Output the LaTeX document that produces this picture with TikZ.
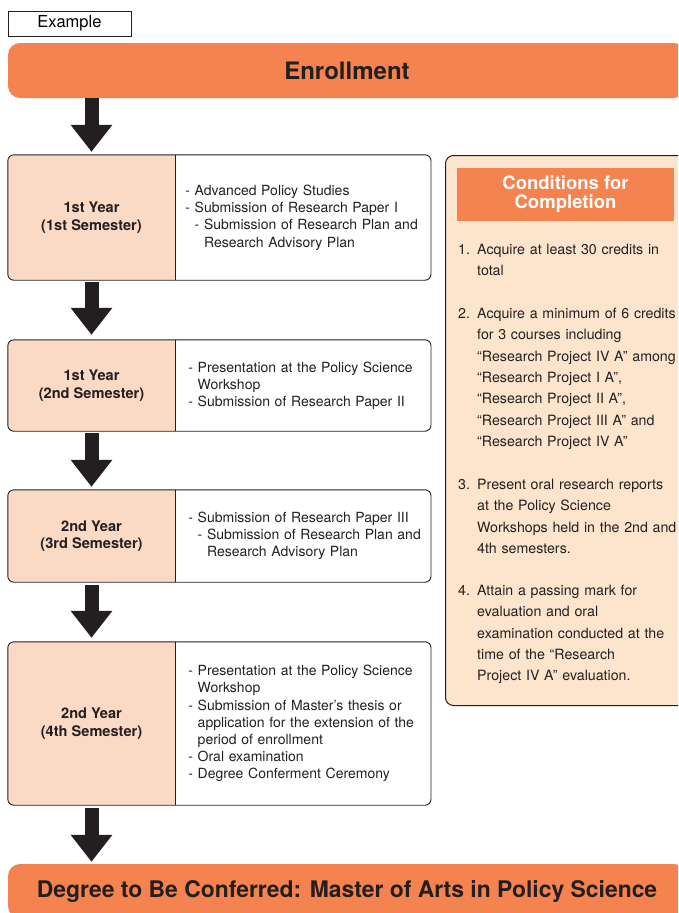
\documentclass[tikz,border=0pt]{standalone}
\usepackage{fontspec}
\setmainfont{TeX Gyre Heros}
\usetikzlibrary{arrows.meta,backgrounds,positioning}
\definecolor{bannerorange}{RGB}{244,131,79}
\definecolor{cellpeach}{RGB}{251,218,197}
\definecolor{panelpeach}{RGB}{253,229,205}
\definecolor{inkdark}{RGB}{35,31,32}
\tikzset{
  banner/.style={fill=bannerorange, rounded corners=12pt, minimum width=678pt, minimum height=55pt,
    text=inkdark, font=\fontsize{24}{28}\selectfont\bfseries},
  yearcell/.style={minimum width=167pt, inner sep=0pt, align=center, text=inkdark,
    font=\fontsize{14.6}{17.5}\selectfont\bfseries},
  itemcell/.style={anchor=west, text width=245pt, inner xsep=10pt, inner ysep=0pt, align=left,
    text=inkdark, font=\fontsize{14}{17.2}\selectfont},
  condtext/.style={anchor=north west, text width=270pt, inner sep=0pt, align=left,
    text=inkdark, font=\fontsize{14.2}{21.3}\selectfont},
  flowarrow/.style={line width=14pt, draw=inkdark, -{Triangle[width=40pt,length=27pt]}}
}
\newcommand{\numlabel}[1]{\makebox[19pt][l]{#1}}
\newcommand{\numgap}{\hspace*{19pt}}

\begin{document}
\begin{tikzpicture}[x=1pt,y=-1pt]
\clip (0,0) rectangle (678,913);
\useasboundingbox (0,0) rectangle (678,913);

\node[draw=inkdark, line width=0.8pt, minimum width=123pt, minimum height=25pt, inner sep=0pt,
  font=\fontsize{16.5}{18}\selectfont] (example) at (69.5,23.5) {Example};

\node[banner] (enroll) at (347,70.5) {Enrollment};
\node[banner, minimum height=54pt, font=\fontsize{22.9}{26}\selectfont\bfseries] (degree) at (347,891)
  {Degree to Be Conferred: Master of Arts in Policy Science};

% semesters
\coordinate (redge) at (431,0);
\node[yearcell, minimum height=125pt] (y1) at (91.5,217.5) {1st Year\\(1st Semester)};
\node[itemcell] (t1) at (y1.east) {- Advanced Policy Studies\\- Submission of Research Paper I\\
  \phantom{- }- Submission of Research Plan and\\\phantom{- - }Research Advisory Plan};

\node[yearcell, minimum height=91pt] (y2) at (91.5,385.5) {1st Year\\(2nd Semester)};
\node[itemcell, inner xsep=13pt] (t2) at (y2.east) {- Presentation at the Policy Science\\
  \phantom{- }Workshop\\- Submission of Research Paper II};

\node[yearcell, minimum height=92pt] (y3) at (91.5,536) {2nd Year\\(3rd Semester)};
\node[itemcell, inner xsep=13pt] (t3) at (y3.east) {- Submission of Research Paper III\\
  \phantom{- }- Submission of Research Plan and\\\phantom{- - }Research Advisory Plan};

\node[yearcell, minimum height=163pt] (y4) at (91.5,723.5) {2nd Year\\(4th Semester)};
\node[itemcell, inner xsep=13pt] (t4) at (y4.east) {- Presentation at the Policy Science\\
  \phantom{- }Workshop\\- Submission of Master’s thesis or\\
  \phantom{- }application for the extension of the\\\phantom{- }period of enrollment\\
  - Oral examination\\- Degree Conferment Ceremony};

\begin{scope}[on background layer]
\foreach \n in {1,...,4}{
  \begin{scope}
    \clip[rounded corners=6pt] (y\n.south west) rectangle (y\n.north west -| redge);
    \fill[cellpeach] (y\n.south west) rectangle (y\n.north east);
  \end{scope}
  \draw[inkdark, line width=0.9pt, rounded corners=6pt] (y\n.south west) rectangle (y\n.north west -| redge);
  \draw[inkdark, line width=0.9pt] (y\n.north east) -- (y\n.south east);
}
\end{scope}

\draw[flowarrow, shorten >=3pt] (enroll.south -| y1.north) -- (y1.north);
\draw[flowarrow, shorten <=2pt, shorten >=5pt] (y1.south) -- (y2.north);
\draw[flowarrow, shorten <=2pt, shorten >=3pt] (y2.south) -- (y3.north);
\draw[flowarrow, shorten <=3pt, shorten >=4pt] (y3.south) -- (y4.north);
\draw[flowarrow, shorten <=3pt, shorten >=2pt] (y4.south) -- (degree.north -| y4.south);

% conditions
\node[draw=inkdark, line width=1pt, fill=panelpeach, rounded corners=8pt, minimum width=241pt,
  minimum height=550pt, anchor=north west] (cond) at (445,155) {};
\node[fill=bannerorange, minimum width=217pt, minimum height=53pt, text=white, align=center,
  font=\fontsize{18.5}{18.5}\selectfont\bfseries] (condtitle) at (565.5,194) {Conditions for\\Completion};

\node[condtext] (c1) at (458,244) {\numlabel{1.}Acquire at least 30 credits in\\\numgap total};
\node[condtext] (c2) at (458,308) {\numlabel{2.}Acquire a minimum of 6 credits\\\numgap for 3 courses including\\
  \numgap “Research Project IV A” among\\\numgap “Research Project I A”,\\\numgap “Research Project II A”,\\
  \numgap “Research Project III A” and\\\numgap “Research Project IV A”};
\node[condtext] (c3) at (458,479) {\numlabel{3.}Present oral research reports\\\numgap at the Policy Science\\
  \numgap Workshops held in the 2nd and\\\numgap 4th semesters.};
\node[condtext] (c4) at (458,585) {\numlabel{4.}Attain a passing mark for\\\numgap evaluation and oral\\
  \numgap examination conducted at the\\\numgap time of the “Research\\\numgap Project IV A” evaluation.};
\end{tikzpicture}
\end{document}
